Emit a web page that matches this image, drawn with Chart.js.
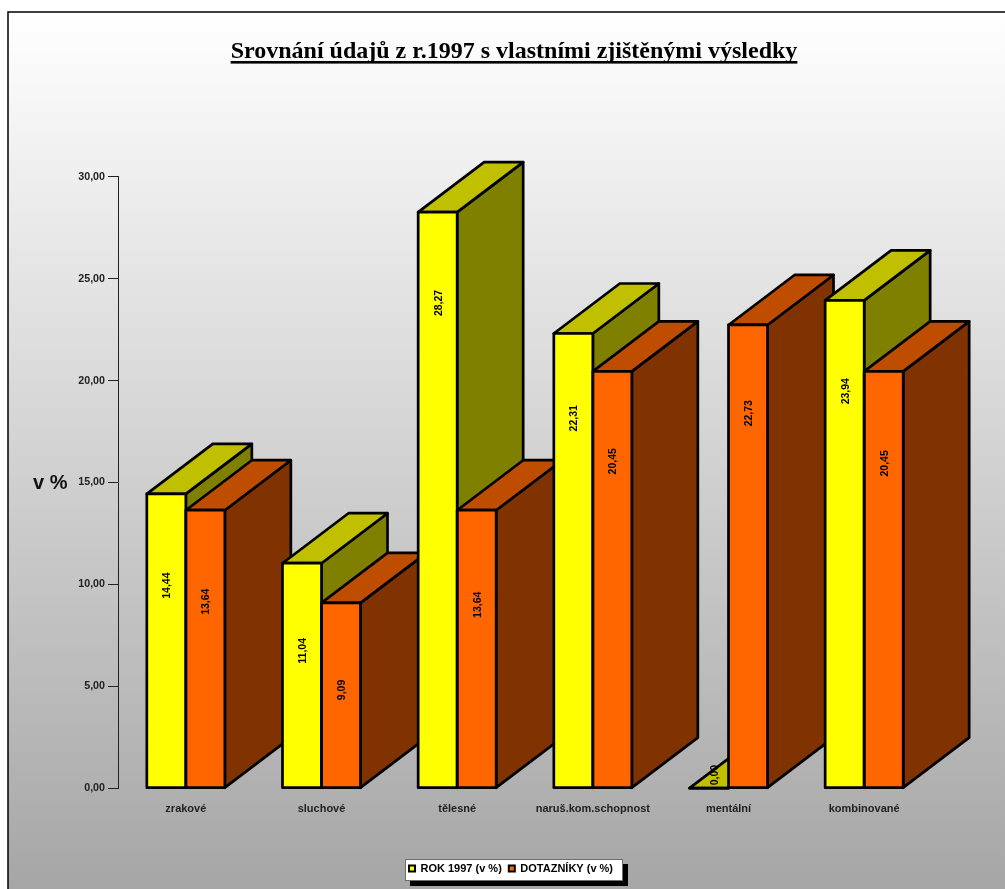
<!DOCTYPE html>
<html lang="cs">
<head>
<meta charset="utf-8">
<title>Srovnání údajů z r.1997</title>
<script src="https://cdn.jsdelivr.net/npm/chart.js@4/dist/chart.umd.min.js"></script>
<style>
  html, body { margin: 0; padding: 0; background: #fff; }
  canvas { display: block; }
</style>
</head>
<body>
<canvas id="chart" width="1005" height="889"></canvas>
<script>
const categories = ['zrakové', 'sluchové', 'tělesné', 'naruš.kom.schopnost', 'mentální', 'kombinované'];
const rok1997 = [14.44, 11.04, 28.27, 22.31, 0, 23.94];
const dotazniky = [13.64, 9.09, 13.64, 20.45, 22.73, 20.45];
// Axis height at which each rotated value label sits.
const rokLabelAt = [9.94, 6.74, 23.81, 18.15, 0.64, 19.48];
const dotaznikyLabelAt = [9.15, 4.82, 9.0, 16.04, 18.4, 15.94];

const chartTitle = 'Srovnání údajů z r.1997 s vlastními zjištěnými výsledky';
const axisCaption = 'v %';
const czech = v => v.toFixed(2).replace('.', ',');

const faces = [
  { front: '#ffff00', top: '#c0c000', side: '#808000', labelAt: rokLabelAt },
  { front: '#ff6600', top: '#bf4d00', side: '#803300', labelAt: dotaznikyLabelAt }
];
const DEPTH_X = 66;
const DEPTH_Y = 50;
const EDGE = 2.7;
// Heading and legend are centred on this span, not on the whole canvas.
const HEAD_LEFT = 96;
const HEAD_RIGHT = 932;

function poly(ctx, pts, fill) {
  ctx.beginPath();
  pts.forEach((p, i) => i ? ctx.lineTo(p[0], p[1]) : ctx.moveTo(p[0], p[1]));
  ctx.closePath();
  if (fill) { ctx.fillStyle = fill; ctx.fill(); }
  ctx.stroke();
}

// Paints the page frame, extruded bar faces and the bar labels.
const blockBars = {
  id: 'blockBars',
  afterLayout(chart) {
    chart.titleBlock.left = HEAD_LEFT;
    chart.titleBlock.right = HEAD_RIGHT;
    chart.legend.left = HEAD_LEFT - 3;
    chart.legend.right = HEAD_RIGHT - 3;
  },
  beforeDraw(chart) {
    const { ctx, width, height } = chart;
    ctx.save();
    const g = ctx.createLinearGradient(0, 12, 0, height);
    g.addColorStop(0, '#ffffff');
    g.addColorStop(1, '#a6a6a6');
    ctx.fillStyle = g;
    ctx.fillRect(8, 12, width, height);
    ctx.strokeStyle = '#000';
    ctx.lineWidth = 1.5;
    ctx.strokeRect(8, 12, width + 10, height + 10);
    ctx.restore();
  },
  beforeDatasetsDraw(chart) {
    const { ctx } = chart;
    ctx.save();
    ctx.strokeStyle = '#000';
    ctx.lineWidth = EDGE;
    ctx.lineJoin = 'round';
    categories.forEach((_, i) => {
      faces.forEach((face, d) => {
        const bar = chart.getDatasetMeta(d).data[i];
        const l = bar.x - bar.width / 2, r = bar.x + bar.width / 2;
        const t = bar.y, b = bar.base;
        if (b - t > 0.5) {
          poly(ctx, [[r, t], [r + DEPTH_X, t - DEPTH_Y], [r + DEPTH_X, b - DEPTH_Y], [r, b]], face.side);
        }
        poly(ctx, [[l, t], [r, t], [r + DEPTH_X, t - DEPTH_Y], [l + DEPTH_X, t - DEPTH_Y]], face.top);
      });
    });
    ctx.restore();
  },
  afterDatasetsDraw(chart) {
    const { ctx, scales } = chart;
    ctx.save();
    ctx.strokeStyle = '#000';
    ctx.lineWidth = EDGE;
    ctx.lineJoin = 'round';
    categories.forEach((_, i) => {
      faces.forEach((face, d) => {
        const bar = chart.getDatasetMeta(d).data[i];
        ctx.strokeRect(bar.x - bar.width / 2, bar.y, bar.width, bar.base - bar.y);
      });
    });
    ctx.fillStyle = '#000';
    ctx.font = 'bold 10.5px "Liberation Sans"';
    ctx.textAlign = 'center';
    ctx.textBaseline = 'middle';
    faces.forEach((face, d) => {
      const values = chart.data.datasets[d].data;
      values.forEach((v, i) => {
        const bar = chart.getDatasetMeta(d).data[i];
        ctx.save();
        // A zero bar has no front, so its label rests further back on the top face.
        ctx.translate(bar.x + (v === 0 ? 6 : 1), scales.y.getPixelForValue(face.labelAt[i]));
        ctx.rotate(-Math.PI / 2);
        ctx.fillText(czech(v), 0, 0);
        ctx.restore();
      });
    });
    // Horizontal caption of the value axis.
    ctx.font = 'bold 20px "Liberation Sans"';
    ctx.fillStyle = '#111';
    ctx.textAlign = 'left';
    ctx.fillText(axisCaption, 33, scales.y.getPixelForValue(14.95));
    // Rule under the heading.
    const block = chart.titleBlock;
    ctx.font = block.options.font.weight + ' ' + block.options.font.size + 'px "Liberation Serif"';
    const w = ctx.measureText(chartTitle).width;
    const cx = (block.left + block.right) / 2;
    ctx.fillStyle = '#000';
    ctx.fillRect(cx - w / 2, 61, w, 2.6);
    ctx.restore();
  }
};

// Legend panel with its hard shadow, painted under the legend entries.
const legendPanel = {
  id: 'legendPanel',
  beforeDraw(chart) {
    const { ctx } = chart;
    const lg = chart.legend;
    const cx = (HEAD_LEFT + HEAD_RIGHT) / 2;
    const half = 109;
    const x0 = cx - half, x1 = cx + half;
    const y0 = lg.top + 3, y1 = lg.bottom - 3;
    ctx.save();
    ctx.fillStyle = '#000';
    ctx.fillRect(x0 + 5, y0 + 5, x1 - x0, y1 - y0);
    ctx.fillStyle = '#fff';
    ctx.fillRect(x0, y0, x1 - x0, y1 - y0);
    ctx.strokeStyle = '#6e6e6e';
    ctx.lineWidth = 1;
    ctx.strokeRect(x0 + 0.5, y0 + 0.5, x1 - x0 - 1, y1 - y0 - 1);
    ctx.restore();
  }
};

new Chart(document.getElementById('chart'), {
  type: 'bar',
  data: {
    labels: categories,
    datasets: [
      { label: 'ROK 1997 (v %)', data: rok1997, backgroundColor: faces[0].front, borderWidth: 0 },
      { label: 'DOTAZNÍKY (v %)', data: dotazniky, backgroundColor: faces[1].front, borderWidth: 0 }
    ]
  },
  plugins: [blockBars, legendPanel],
  options: {
    responsive: false,
    animation: false,
    layout: { padding: { left: 0, right: 73, top: 0, bottom: 5 } },
    datasets: { bar: { barPercentage: 1, categoryPercentage: 0.575 } },
    scales: {
      x: {
        grid: { display: false },
        border: { display: false },
        afterFit(scale) { scale.height = 67.8; },
        ticks: {
          color: '#222', maxRotation: 0, autoSkip: false, padding: 6,
          font: { family: '"Liberation Sans"', size: 11, weight: 'bold' }
        }
      },
      y: {
        min: 0,
        max: 30,
        afterFit(scale) { scale.width = 118; },
        grid: { drawOnChartArea: false, color: '#222', tickLength: 10 },
        border: { display: true, color: '#222', width: 1 },
        ticks: {
          stepSize: 5, padding: 3, color: '#222',
          font: { family: '"Liberation Sans"', size: 10.7, weight: 'bold' },
          callback: v => czech(v)
        }
      }
    },
    plugins: {
      tooltip: { enabled: false },
      title: {
        display: true,
        text: chartTitle,
        color: '#000',
        font: { family: '"Liberation Serif"', size: 24, weight: 'bold', lineHeight: 1.2 },
        padding: { top: 37, bottom: 111 }
      },
      legend: {
        position: 'bottom',
        labels: {
          boxWidth: 6, boxHeight: 6, padding: 7, color: '#000',
          font: { family: '"Liberation Sans"', size: 11, weight: 'bold' },
          generateLabels(chart) {
            return chart.data.datasets.map((ds, i) => ({
              text: ds.label, fillStyle: ds.backgroundColor, strokeStyle: '#000',
              lineWidth: 2, datasetIndex: i
            }));
          }
        }
      }
    }
  }
});
</script>
</body>
</html>
